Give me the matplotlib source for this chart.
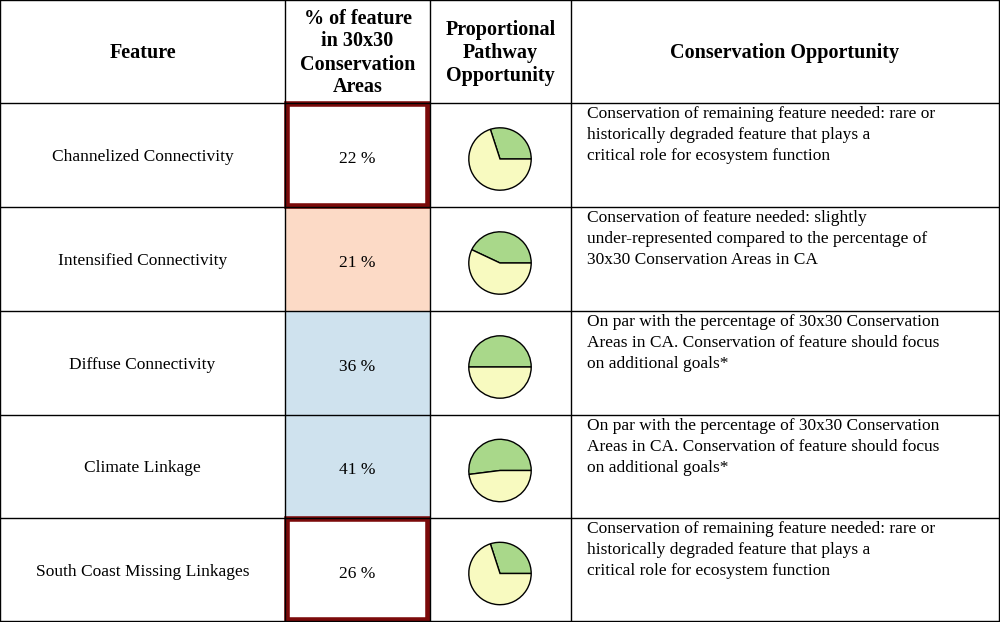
import matplotlib
matplotlib.use("Agg")
import matplotlib.pyplot as plt
from matplotlib.patches import Rectangle

features = ["Channelized Connectivity", "Intensified Connectivity", "Diffuse Connectivity",
            "Climate Linkage", "South Coast Missing Linkages"]
percents = [22, 21, 36, 41, 26]
pie_share = [30, 43, 50, 52, 30]
opportunities = [
    "Conservation of remaining feature needed: rare or\nhistorically degraded feature that plays a\ncritical role for ecosystem function",
    "Conservation of feature needed: slightly\nunder-represented compared to the percentage of\n30x30 Conservation Areas in CA",
    "On par with the percentage of 30x30 Conservation\nAreas in CA. Conservation of feature should focus\non additional goals*",
    "On par with the percentage of 30x30 Conservation\nAreas in CA. Conservation of feature should focus\non additional goals*",
    "Conservation of remaining feature needed: rare or\nhistorically degraded feature that plays a\ncritical role for ecosystem function",
]
cell_colors = ["white", "#fcdac6", "#cfe2ee", "#cfe2ee", "white"]
highlight = [True, False, False, False, True]
headers = ["Feature", "% of feature\nin 30x30\nConservation\nAreas", "Proportional\nPathway\nOpportunity", "Conservation Opportunity"]

W, H = 1000, 622
fig = plt.figure(figsize=(10, 6.22), dpi=100)
ax = fig.add_axes([0, 0, 1, 1])
ax.set_xlim(0, W); ax.set_ylim(H, 0); ax.axis("off")
font = "Liberation Serif"
cols = [0, 285, 430, 571, 999]
rows = [0, 103, 207, 311, 415, 518, 621]

for i in range(5):
    y0, y1 = rows[i+1], rows[i+2]
    ax.add_patch(Rectangle((cols[1], y0), cols[2]-cols[1], y1-y0, fc=cell_colors[i], ec="none"))

for x in cols:
    ax.plot([x, x], [0, H], color="black", lw=1)
for y in rows:
    ax.plot([0, W], [y, y], color="black", lw=1)

xc = [(cols[0]+cols[1])/2, (cols[1]+cols[2])/2, (cols[2]+cols[3])/2, (cols[3]+cols[4])/2]
for j, h in enumerate(headers):
    ax.text(xc[j], 53, h, ha="center", va="center", fontsize=14.5, fontweight="bold",
            family=font, linespacing=1.2)

for i in range(5):
    yc = (rows[i+1] + rows[i+2]) / 2
    ax.text(xc[0], yc + 2, features[i], ha="center", va="center", fontsize=12.5, family=font)
    ax.text(xc[1], yc + 4, f"{percents[i]} %", ha="center", va="center", fontsize=12.5, family=font)
    ax.text(587, rows[i+1] + 3, opportunities[i], ha="left", va="top", fontsize=12.5,
            family=font, linespacing=1.4)
    if highlight[i]:
        ax.add_patch(Rectangle((cols[1]+2, rows[i+1]+1), cols[2]-cols[1]-4, rows[i+2]-rows[i+1]-2,
                               fc="none", ec="#7b0a0a", lw=4))
    r = 39
    pax = fig.add_axes([(500 - r)/W, 1 - (yc + 4 + r)/H, 2*r/W, 2*r/H])
    pax.pie([pie_share[i], 100 - pie_share[i]], colors=["#a9d88a", "#f8fac0"], startangle=0,
            counterclock=True, wedgeprops=dict(edgecolor="black", linewidth=1))
    pax.set_aspect("equal")

fig.savefig("out.png", dpi=100)
